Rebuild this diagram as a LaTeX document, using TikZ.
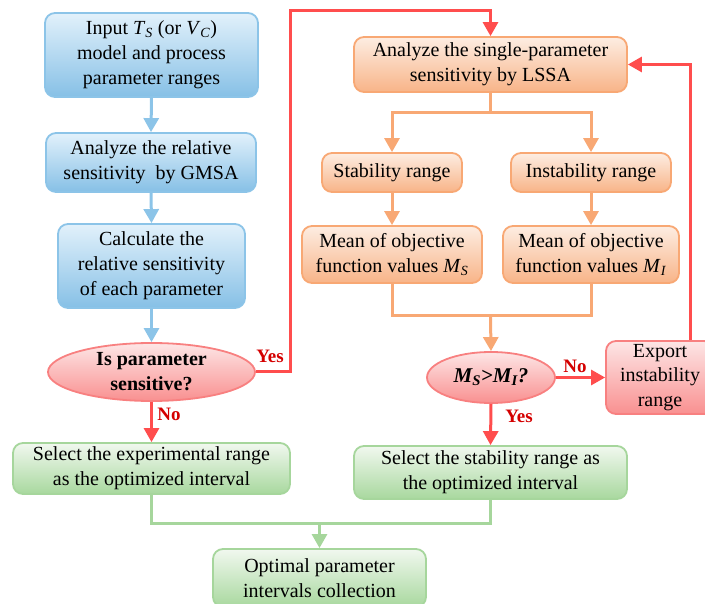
\documentclass[tikz,border=0pt]{standalone}
\usepackage{fontspec}
\setmainfont{Liberation Serif}
\usetikzlibrary{arrows.meta,shapes.geometric}
\definecolor{bluedraw}{HTML}{8CC4E8}
\definecolor{bluetop}{HTML}{E2F1FB}
\definecolor{bluebot}{HTML}{86C0E6}
\definecolor{orgdraw}{HTML}{F8A874}
\definecolor{orgtop}{HTML}{FDEDE2}
\definecolor{orgbot}{HTML}{F8B488}
\definecolor{reddraw}{HTML}{F88080}
\definecolor{redtop}{HTML}{FDE6E6}
\definecolor{redbot}{HTML}{F99090}
\definecolor{grndraw}{HTML}{A6D69C}
\definecolor{grntop}{HTML}{F1F8EF}
\definecolor{grnbot}{HTML}{A8D89E}
\definecolor{redline}{HTML}{FF4D4D}
\definecolor{lblred}{HTML}{D40000}
\newcommand\isub[2]{\textit{#1}\textsubscript{\textit{#2}}}
\begin{document}
\begin{tikzpicture}[x=1pt,y=-1pt,
  txt/.style={font=\fontsize{20}{25}\selectfont},
  box/.style={txt, rounded corners=10pt, draw, line width=1.8pt, inner sep=0pt, align=center},
  bluebox/.style={box, draw=bluedraw, top color=bluetop, bottom color=bluebot},
  orgbox/.style={box, draw=orgdraw, top color=orgtop, bottom color=orgbot},
  grnbox/.style={box, draw=grndraw, top color=grntop, bottom color=grnbot},
  redbox/.style={box, draw=reddraw, top color=redtop, bottom color=redbot},
  redell/.style={ellipse, draw=reddraw, line width=1.8pt, top color=redtop, bottom color=redbot, inner sep=0pt, align=center, font=\fontsize{20}{25}\selectfont\bfseries},
  conn/.style={line width=3pt, -{Triangle[width=15pt,length=14pt]}},
  plain/.style={line width=3pt},
  lbl/.style={font=\fontsize{19}{20}\selectfont\bfseries, text=lblred, inner sep=0pt}
]
\useasboundingbox (0,0) rectangle (705,604);
% left column
\node[bluebox, minimum width=213pt, minimum height=84pt] (b1) at (151.5,55) {Input \isub{T}{S} (or \isub{V}{C})\\model and process\\parameter ranges};
\node[bluebox, minimum width=210pt, minimum height=59pt] (b2) at (151,162.5) {Analyze the relative\\sensitivity\ \ by GMSA};
\node[bluebox, minimum width=187pt, minimum height=84pt] (b3) at (151.5,266) {Calculate the\\relative sensitivity\\of each parameter};
\node[redell, minimum width=207pt, minimum height=58pt] (e1) at (151.5,372) {Is parameter\\sensitive?};
\node[grnbox, minimum width=277pt, minimum height=51pt] (g1) at (151.5,468.5) {Select the experimental range\\as the optimized interval};
\node[grnbox, minimum width=273pt, minimum height=53pt] (g2) at (490.5,472.5) {Select the stability range as\\the optimized interval};
\node[grnbox, minimum width=213pt, minimum height=58pt] (g3) at (319.5,578) {Optimal parameter\\intervals collection};
% right part
\node[orgbox, minimum width=273pt, minimum height=55pt] (o1) at (490.5,64.5) {Analyze the single-parameter\\sensitivity by LSSA};
\node[orgbox, minimum width=140pt, minimum height=39pt] (o2) at (392,172.5) {Stability range};
\node[orgbox, minimum width=160pt, minimum height=39pt] (o3) at (591,172.5) {Instability range};
\node[orgbox, minimum width=180pt, minimum height=57pt] (o4) at (392,254.5) {Mean of objective\\function values \isub{M}{S}};
\node[orgbox, minimum width=176pt, minimum height=57pt] (o5) at (591,254.5) {Mean of objective\\function values \isub{M}{I}};
\node[redell, minimum width=128pt, minimum height=51pt, font=\fontsize{21}{25}\selectfont\bfseries\itshape] (e2) at (491,377.5) {M\textsubscript{S}>M\textsubscript{I}?};
\node[redbox, minimum width=108pt, minimum height=73pt, font=\fontsize{20}{24.5}\selectfont] (r1) at (660,377.5) {Export\\instability\\range};
% coordinates
\coordinate (c1) at (290,372);
\coordinate (c2) at (290,11);
\coordinate (j1) at (490.5,113);
\coordinate (j2) at (490.5,316);
\coordinate (j3) at (319.5,523);
% blue connectors
\draw[conn, bluedraw] (b1.south) -- (b2.north);
\draw[conn, bluedraw] (b2.south) -- (b3.north);
\draw[conn, bluedraw] (b3.south) -- (e1.north);
% red connectors
\draw[conn, redline] (e1.east) -- (c1) -- (c2) -| (o1.north);
\draw[conn, redline] (e1.south) -- (g1.north);
\draw[conn, redline] (e2.east) -- (r1.west);
\draw[conn, redline] (e2.south) -- (g2.north);
\draw[conn, redline] ([xshift=30pt]r1.north) |- (o1.east);
% orange connectors
\draw[plain, orgdraw] (o1.south) -- (j1);
\draw[conn, orgdraw] (j1) -| (o2.north);
\draw[conn, orgdraw] (j1) -| (o3.north);
\draw[conn, orgdraw] (o2.south) -- (o4.north);
\draw[conn, orgdraw] (o3.south) -- (o5.north);
\draw[plain, orgdraw] (o4.south) |- (j2);
\draw[plain, orgdraw] (o5.south) |- (j2);
\draw[conn, orgdraw] (j2) -- (e2.north);
% green connectors
\draw[plain, grndraw] (g1.south) |- (j3);
\draw[plain, grndraw] (g2.south) |- (j3);
\draw[conn, grndraw] (j3) -- (g3.north);
% labels
\node[lbl] (l1) at (270,356) {Yes};
\node[lbl] (l2) at (169,414) {No};
\node[lbl] (l3) at (575,366) {No};
\node[lbl] (l4) at (519,416) {Yes};
\end{tikzpicture}
\end{document}
